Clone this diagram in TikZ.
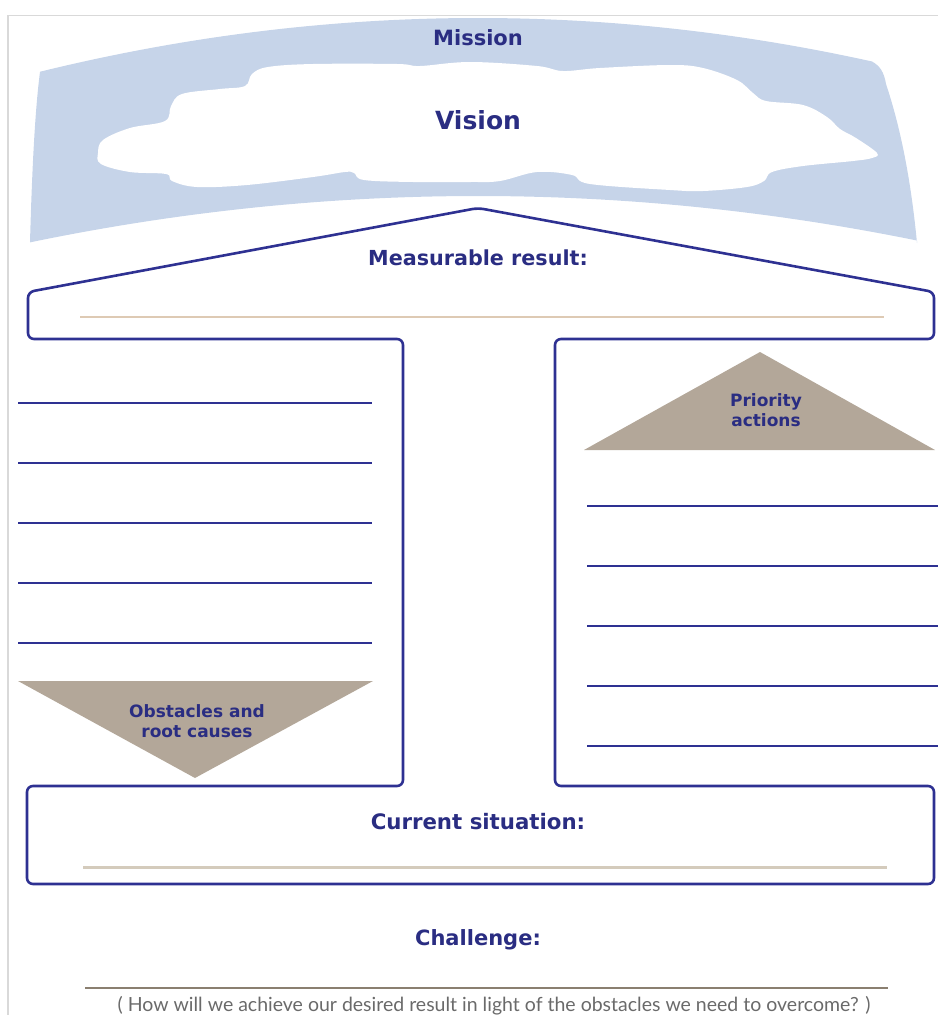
\documentclass[tikz,border=0pt]{standalone}
\usepackage{fontspec}
\setmainfont{Lato}
\newfontfamily\headfont{DejaVu Sans}
\definecolor{navy}{HTML}{2E3192}
\definecolor{inkblue}{HTML}{2A2D82}
\definecolor{skyband}{HTML}{C6D4E9}
\definecolor{taupe}{HTML}{B3A799}
\definecolor{sand}{HTML}{DECAB4}
\definecolor{sandgray}{HTML}{D4CBBC}
\definecolor{earth}{HTML}{8A7F70}
\definecolor{frame}{HTML}{D9D9D9}
\definecolor{note}{HTML}{6A6A6A}
\begin{document}
\begin{tikzpicture}[x=1pt,y=-1pt,
  outline/.style={draw=navy,line width=2.6pt,rounded corners=6pt,line join=round},
  rule/.style={draw=navy,line width=2.4pt},
  fillrule/.style={line width=2.2pt},
  title/.style={text=inkblue,font=\headfont\bfseries\fontsize{21}{25}\selectfont,inner sep=0pt},
  tri/.style={fill=taupe},
  trilabel/.style={text=inkblue,font=\headfont\bfseries\fontsize{17}{19.5}\selectfont,align=center,inner sep=0pt}]
\useasboundingbox (0,0) rectangle (938,1015);

% page frame
\draw[frame,line width=1.2pt] (8,1015) -- (8,15.5) -- (938,15.5);

% mission band
\fill[skyband]
  plot[domain=40:872,samples=60] (\x,{18+2.8*((\x-478)/100)^2})
  .. controls (880,66) and (884,72) .. (886,84)
  .. controls (898,120) and (910,170) .. (917,243)
  -- plot[domain=917:30,samples=60] (\x,{196+2.31*((\x-478)/100)^2})
  .. controls (32,170) and (35,110) .. (40,72) -- cycle;

% vision cloud
\fill[white] plot[smooth cycle,tension=0.6] coordinates {
  (98,153) (103,140) (130,128) (165,121) (171,106) (182,94) (220,89)
  (245,86) (252,74) (268,67) (313,64) (397,64) (420,66) (470,62)
  (537,66) (563,71) (600,68) (670,65) (703,68) (737,80) (753,93)
  (766,101) (803,105) (827,117) (840,129) (856,138) (877,153)
  (872,158) (853,161) (803,166) (772,172) (764,181) (747,187)
  (703,191) (670,190) (590,184) (572,175) (537,172) (500,181)
  (470,182) (413,182) (364,180) (354,173) (345,172) (313,177)
  (247,185) (197,187) (172,181) (166,174) (130,172) (101,164)};

\node[title,font=\headfont\bfseries\fontsize{21}{25}\selectfont] (mission) at (478,38) {Mission};
\node[title,font=\headfont\bfseries\fontsize{25}{30}\selectfont] (vision) at (478,120) {Vision};

% house-shaped outline: roof box, two columns, base box
\path[outline] (403,560) -- (403,339) -- (28,339) -- (28,292) -- (478,208)
  -- (934,292) -- (934,339) -- (555,339) -- (555,786) -- (934,786)
  -- (934,884) -- (27,884) -- (27,786) -- (403,786) -- cycle;

\node[title,font=\headfont\bfseries\fontsize{20.7}{25}\selectfont] (result) at (478,258) {Measurable result:};
\draw[sand,fillrule] (80,317) -- (884,317);

% left column: obstacles
\foreach \y in {403,463,523,583,643}
  \draw[rule] (18,\y) -- (372,\y);
\fill[tri] (18,681) -- (373,681) -- (195,778) -- cycle;
\node[trilabel] (obstacles) at (197,721) {Obstacles and\\root causes};

% right column: priority actions
\fill[tri] (760,352) -- (935,450) -- (584,450) -- cycle;
\node[trilabel] (priority) at (766,410) {Priority\\actions};
\foreach \y in {506,566,626,686,746}
  \draw[rule] (587,\y) -- (938,\y);

% base box
\node[title,font=\headfont\bfseries\fontsize{21.3}{25}\selectfont] (current) at (478,822) {Current situation:};
\draw[sandgray,line width=3pt] (83,867) -- (887,867);

% challenge
\node[title] (challenge) at (478,940) {Challenge:};
\draw[earth,line width=2.4pt] (85,988) -- (888,988);
\node[text=note,font=\fontsize{19.5}{23}\selectfont,inner sep=0pt] (question) at (494,1006)
  {( How will we achieve our desired result in light of the obstacles we need to overcome? )};
\end{tikzpicture}
\end{document}
